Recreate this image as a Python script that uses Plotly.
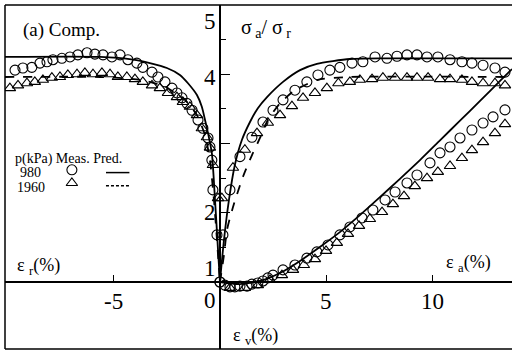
import plotly.graph_objects as go

# --- Measured stress ratio vs radial strain (left branch, eps_r < 0) ---
er_980 = [-9.62, -9.25, -8.83, -8.45, -8.12, -7.84, -7.42, -7.04, -6.67, -6.24, -5.87, -5.49,
          -5.07, -4.69, -4.32, -3.90, -3.62, -3.19, -2.91, -2.58, -2.25, -2.02, -1.78, -1.55,
          -1.31, -1.03, -0.80, -0.56, -0.47, -0.38, -0.33, -0.14, 0.0]
sr_er_980 = [4.06, 4.09, 4.10, 4.16, 4.18, 4.21, 4.23, 4.25, 4.28, 4.31, 4.29, 4.28,
             4.25, 4.28, 4.21, 4.16, 4.10, 4.03, 3.96, 3.89, 3.80, 3.73, 3.66, 3.58,
             3.48, 3.34, 3.22, 3.08, 2.95, 2.76, 2.33, 1.68, 1.0]
er_1960 = [-9.86, -9.48, -9.06, -8.69, -8.31, -7.89, -7.51, -7.14, -6.71, -6.34, -5.96, -5.54,
           -5.16, -4.79, -4.37, -3.99, -3.62, -3.19, -2.82, -2.44, -2.02, -1.74, -1.41, -1.08,
           -0.85, -0.61, -0.47, -0.33, -0.09]
sr_er_1960 = [3.80, 3.84, 3.87, 3.89, 3.92, 3.95, 3.96, 3.99, 4.00, 4.02, 4.00, 4.02,
              4.00, 3.96, 3.96, 3.93, 3.89, 3.84, 3.80, 3.73, 3.67, 3.60, 3.53, 3.41,
              3.22, 3.09, 2.94, 2.69, 2.21]

# --- Measured stress ratio vs axial strain ---
ea_980 = [0.14, 0.47, 0.94, 1.50, 2.02, 2.49, 2.96, 3.52, 4.08, 4.60, 5.16, 5.63, 6.20, 6.71,
          7.28, 7.84, 8.31, 8.78, 9.25, 9.72, 10.23, 10.80, 11.36, 11.83, 12.35, 12.91, 13.38]
sr_ea_980 = [1.68, 2.33, 2.81, 3.09, 3.31, 3.48, 3.63, 3.77, 3.89, 3.99, 4.06, 4.10, 4.16, 4.18,
             4.25, 4.23, 4.26, 4.28, 4.28, 4.25, 4.25, 4.21, 4.18, 4.16, 4.13, 4.09, 4.03]
ea_1960 = [0.09, 0.61, 1.17, 1.74, 2.25, 2.82, 3.38, 3.90, 4.46, 5.02, 5.56, 6.10, 6.57, 7.14,
           7.65, 8.22, 8.78, 9.25, 9.77, 10.33, 10.80, 11.36, 11.83, 12.35, 12.91, 13.38]
sr_ea_1960 = [2.21, 2.65, 2.91, 3.15, 3.30, 3.41, 3.54, 3.66, 3.73, 3.80, 3.87, 3.89, 3.92, 3.93,
              3.95, 3.95, 3.95, 3.95, 3.95, 3.93, 3.93, 3.92, 3.89, 3.87, 3.87, 3.84]

# --- Measured volumetric strain vs axial strain (compression positive) ---
ev_ea_980 = [0.0, 0.23, 0.47, 0.70, 0.94, 1.27, 1.50, 1.78, 2.02, 2.25, 2.49, 2.96, 3.52, 4.08,
             4.55, 5.07, 5.63, 6.10, 6.67, 7.18, 7.75, 8.22, 8.78, 9.25, 9.86, 10.33, 10.80,
             11.27, 11.83, 12.35, 12.82, 13.38]
ev_980 = [0.0, 0.09, 0.14, 0.14, 0.12, 0.12, 0.06, 0.03, -0.03, -0.12, -0.20, -0.35, -0.49, -0.69,
          -0.87, -1.07, -1.36, -1.59, -1.85, -2.08, -2.37, -2.60, -2.86, -3.09, -3.44, -3.73, -3.90,
          -4.16, -4.39, -4.59, -4.77, -4.97]
ev_ea_1960 = [0.47, 1.17, 1.78, 2.35, 2.91, 3.43, 3.94, 4.46, 4.98, 5.49, 6.01, 6.53, 7.04, 7.61,
              8.12, 8.64, 9.15, 9.72, 10.23, 10.80, 11.36, 11.83, 12.35, 12.91, 13.38]
ev_1960 = [0.17, 0.17, 0.09, -0.06, -0.20, -0.35, -0.49, -0.66, -0.90, -1.13, -1.39, -1.62, -1.82,
           -2.02, -2.25, -2.48, -2.77, -3.00, -3.18, -3.35, -3.58, -3.81, -4.04, -4.30, -4.56]

# --- Predicted curves ---
pred_er_980 = [-10.09, -5.63, -4.08, -3.29, -2.49, -1.88, -1.50, -1.08, -0.85, -0.70, -0.56,
               -0.38, -0.23, -0.09, 0.0]
pred_sr_er_980 = [4.25, 4.25, 4.21, 4.16, 4.09, 3.99, 3.87, 3.70, 3.53, 3.34, 3.15,
                  2.86, 2.18, 1.46, 1.0]
pred_ea_980 = [0.0, 0.19, 0.42, 0.70, 1.03, 1.41, 1.78, 2.21, 2.96, 3.76, 4.55, 6.10, 7.65, 13.71]
pred_sr_ea_980 = [1.0, 1.61, 2.18, 2.69, 3.05, 3.31, 3.51, 3.67, 3.89, 4.06, 4.15, 4.22, 4.23, 4.23]
pred_er_1960 = [-10.09, -5.63, -3.76, -2.58, -1.64, -1.08, -0.70, -0.47, -0.28, -0.14, 0.0]
pred_sr_er_1960 = [3.96, 3.96, 3.92, 3.82, 3.63, 3.41, 3.12, 2.76, 2.18, 1.61, 1.0]
pred_ea_1960 = [0.0, 0.19, 0.33, 0.61, 1.08, 1.50, 1.88, 2.25, 2.82, 3.52, 4.60, 6.10, 13.71]
pred_sr_ea_1960 = [1.0, 1.39, 1.75, 2.08, 2.52, 2.83, 3.08, 3.34, 3.58, 3.77, 3.92, 3.96, 3.96]
pred_ev_ea_980 = [0.0, 0.94, 1.88, 2.82, 3.76, 4.69, 5.63, 6.57, 7.51, 8.45, 9.39, 10.33, 11.27,
                  12.21, 13.15, 13.71]
pred_ev_980 = [0.0, 0.06, -0.03, -0.26, -0.61, -1.01, -1.44, -1.93, -2.45, -2.98, -3.52, -4.09,
               -4.66, -5.23, -5.81, -6.15]

# Axis ranges and tick labels
x_range = [-10.09, 13.71]
sr_range = [0.0325, 5.0]
ev_range = [2 * (1 - sr_range[0]), 2 * (1 - sr_range[1])]  # 1 unit of ratio = 2 % of eps_v
x_tick_vals = [-5, 5, 10]
x_tick_text = ["-5", "5", "10"]
sr_tick_vals = [5, 4, 2, 1]
sr_tick_text = ["5", "4", "2", "1"]
ev_tick_vals = [0, 2]
ev_tick_text = ["0", "2"]

SERIF = "Liberation Serif"
BLACK = "black"

fig = go.Figure()


def markers(x, y, symbol, yaxis="y"):
    fig.add_trace(go.Scatter(
        x=x, y=y, mode="markers", yaxis=yaxis, showlegend=False, cliponaxis=True,
        marker=dict(symbol=symbol, size=10, color=BLACK, line=dict(color=BLACK, width=1.1))))


def curve(x, y, dash, yaxis="y"):
    fig.add_trace(go.Scatter(
        x=x, y=y, mode="lines", yaxis=yaxis, showlegend=False,
        line=dict(color=BLACK, width=1.8, dash=dash, shape="spline", smoothing=0.6)))


# predicted lines
curve(pred_er_980, pred_sr_er_980, "solid")
curve(pred_ea_980, pred_sr_ea_980, "solid")
curve(pred_er_1960, pred_sr_er_1960, "dash")
curve(pred_ea_1960, pred_sr_ea_1960, "dash")
curve(pred_ev_ea_980, pred_ev_980, "solid", yaxis="y2")

# measured points
markers(er_980, sr_er_980, "circle-open")
markers(ea_980, sr_ea_980, "circle-open")
markers(er_1960, sr_er_1960, "triangle-up-open")
markers(ea_1960, sr_ea_1960, "triangle-up-open")
markers(ev_ea_980, ev_980, "circle-open", yaxis="y2")
markers(ev_ea_1960, ev_1960, "triangle-up-open", yaxis="y2")

# key samples
markers([-6.95], [2.62], "circle-open")
markers([-6.95], [2.43], "triangle-up-open")
fig.add_trace(go.Scatter(x=[-5.35, -4.25], y=[2.58, 2.58], mode="lines", showlegend=False,
                         line=dict(color=BLACK, width=1.5)))
fig.add_trace(go.Scatter(x=[-5.35, -4.25], y=[2.39, 2.39], mode="lines", showlegend=False,
                         line=dict(color=BLACK, width=1.5, dash="3px,2px")))

x_axis_pos = (1 - sr_range[0]) / (sr_range[1] - sr_range[0])
y_axis_pos = (0 - x_range[0]) / (x_range[1] - x_range[0])

fig.update_layout(
    width=512, height=352,
    margin=dict(l=5, r=0, t=5, b=3),
    paper_bgcolor="white", plot_bgcolor="white",
    font=dict(family=SERIF, color=BLACK),
    xaxis=dict(range=x_range, showgrid=False, zeroline=False, showline=True,
               linecolor=BLACK, linewidth=1.5, anchor="free", position=x_axis_pos,
               tickvals=x_tick_vals, ticks="inside", ticklen=6, tickwidth=1.2,
               tickcolor=BLACK, showticklabels=False),
    yaxis=dict(range=sr_range, showgrid=False, zeroline=False, showline=True,
               linecolor=BLACK, linewidth=1.5, anchor="free", position=y_axis_pos,
               tickvals=[2, 3, 4], ticks="inside", ticklen=9, tickwidth=1.2,
               tickcolor=BLACK, showticklabels=False,
               minor=dict(tickvals=[1.5, 2.5, 3.5, 4.5], ticks="inside", ticklen=5,
                          tickwidth=1, tickcolor=BLACK)),
    yaxis2=dict(range=ev_range, overlaying="y", visible=False),
    showlegend=False,
)

# frame (left, top, bottom)
for x0, y0, x1, y1 in [(0, 0, 0, 1), (0, 1, 1, 1), (0, 0, 1, 0)]:
    fig.add_shape(type="line", xref="paper", yref="paper", x0=x0, y0=y0, x1=x1, y1=y1,
                  line=dict(color=BLACK, width=1.5))

ann = []


def text(x, y, s, size, xref="paper", yref="paper", xanchor="center", yanchor="middle",
         xshift=0, yshift=0):
    ann.append(dict(x=x, y=y, xref=xref, yref=yref, text=s, showarrow=False,
                    xanchor=xanchor, yanchor=yanchor, xshift=xshift, yshift=yshift,
                    font=dict(family=SERIF, size=size, color=BLACK)))


# horizontal tick labels
for v, t in zip(x_tick_vals, x_tick_text):
    text(v, 1, t, 23, xref="x", yref="y", yanchor="top", yshift=-5)
# stress ratio tick labels
sr_shift = {5: -16, 4: -3, 2: 0, 1: 14}
for v, t in zip(sr_tick_vals, sr_tick_text):
    text(0, v, t, 23, xref="x", yref="y", xanchor="right", xshift=-2, yshift=sr_shift[v])
# volumetric strain tick labels
ev_shift = {0: -18, 2: 12}
for v, t in zip(ev_tick_vals, ev_tick_text):
    text(0, v, t, 23, xref="x", yref="y2", xanchor="right", xshift=-2, yshift=ev_shift[v])

text(0.112, 0.928, "(a) Comp.", 19)
text(0.462, 0.932, "σ<sub> a</sub>/ σ<sub> r</sub>", 20, xanchor="left")
text(0.020, 0.24, "ε <sub>r</sub>(%)", 18, xanchor="left")
text(0.866, 0.25, "ε <sub>a</sub>(%)", 18, xanchor="left")
text(0.446, 0.035, "ε <sub>v</sub>(%)", 18, xanchor="left")
text(0.016, 0.552, "p(kPa) Meas. Pred.", 14, xanchor="left")
text(0.026, 0.512, "980", 14, xanchor="left")
text(0.019, 0.470, "1960", 14, xanchor="left")

fig.update_layout(annotations=ann)
fig.write_html("out.html")
